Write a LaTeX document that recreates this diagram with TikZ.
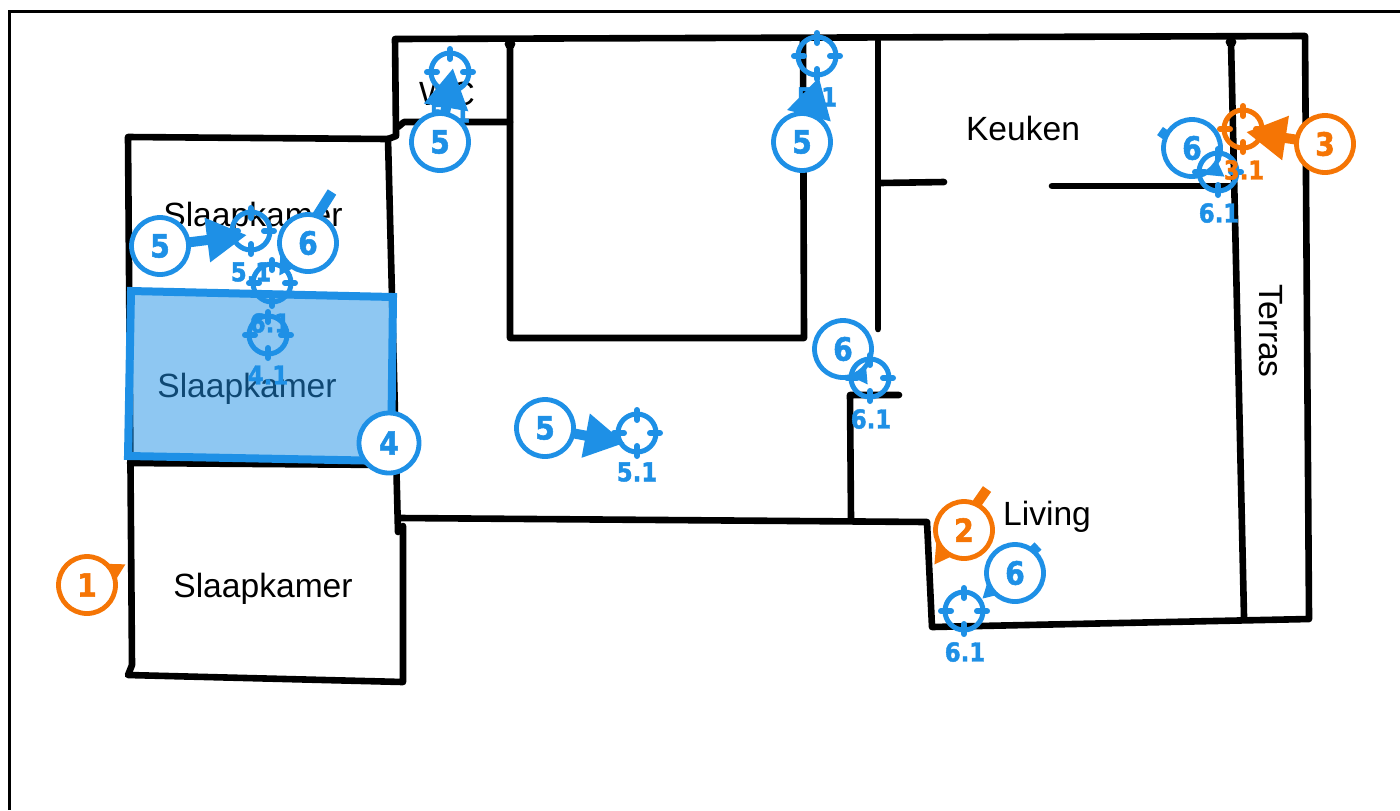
\documentclass[tikz,border=0pt]{standalone}
\usepackage{fontspec}
\setmainfont{Liberation Sans}
\newfontfamily\numfont{DejaVu Sans}[FakeStretch=0.88,FakeBold=1.6]
\usetikzlibrary{arrows.meta}
\definecolor{mblue}{HTML}{1E90E6}
\definecolor{morange}{HTML}{F57505}
\tikzset{
  x=0.5pt,y=-0.5pt,
  wall/.style={draw=black,line width=3.3pt,line cap=round,line join=round},
  roomtext/.style={font=\fontsize{16.8}{18}\selectfont,text=black,inner sep=0pt},
  callout/.style={circle,draw=#1,line width=2.4pt,fill=white,minimum size=28.5pt,inner sep=0pt,text=#1,font=\numfont\bfseries\fontsize{16}{18}\selectfont},
  targetring/.style={circle,draw=#1,line width=2.5pt,minimum size=19pt,inner sep=0pt},
  targettick/.style={draw=#1,line width=3pt,line cap=round},
  targetlabel/.style={text=#1,inner sep=0pt,font=\numfont\bfseries\fontsize{13}{15}\selectfont},
  pointer/.style={draw=#1,fill=#1,line width=5pt,-{Triangle[length=20pt,width=21pt,fill=#1]}},
}
\newcommand{\targetmark}[4]{% name, x, y, colour
  \node[targetring=#4] (#1) at (#2,#3) {};
  \foreach \a in {0,90,180,270}
    \draw[targettick=#4] ([shift={(\a:6.5pt)}]#1.center) -- ([shift={(\a:11.5pt)}]#1.center);
}
\newcommand{\targetlab}[5]{\node[targetlabel=#5] (#1) at (#2,#3) {#4};}
\begin{document}
\begin{tikzpicture}
\useasboundingbox (0,0) rectangle (1400,810);
\fill[white] (0,0) rectangle (1400,810);
% page frame
\coordinate (fa) at (9,810); \coordinate (fb) at (9,11); \coordinate (fc) at (1400,11);
\draw[black,line width=1.5pt,line join=miter] (fa) -- (fb) -- (fc);
% walls
\coordinate (w1) at (128,137); \coordinate (w2) at (388,139);
\coordinate (w4) at (398,532); \coordinate (w4b) at (403,526);
\coordinate (w5) at (132,665); \coordinate (w6) at (128,675); \coordinate (w7) at (403,682);
\coordinate (w8) at (401,518); \coordinate (w9) at (927,522); \coordinate (w10) at (932,627);
\coordinate (w11) at (1309,619); \coordinate (w12) at (1305,36); \coordinate (w13) at (395,39);
\coordinate (w14) at (396,136);
\draw[wall] (w2) -- (w1) -- (w5) -- (w6) -- (w7) -- (w4b);
\draw[wall] (w2) -- (w4);
\draw[wall] (w8) -- (w9) -- (w10) -- (w11) -- (w12) -- (w13) -- (w14) -- (w2);
\coordinate (a1) at (398,127); \coordinate (a2) at (404,122); \coordinate (a3) at (510,122);
\draw[wall] (a1) -- (a2) -- (a3);
\coordinate (b1) at (510,44); \coordinate (b2) at (510,338); \coordinate (b3) at (804,338); \coordinate (b4) at (803,41);
\draw[wall] (b1) -- (b2) -- (b3) -- (b4);
\coordinate (c1) at (878,41); \coordinate (c2) at (878,329);
\draw[wall] (c1) -- (c2);
\coordinate (d1) at (880,183); \coordinate (d2) at (944,182);
\draw[wall] (d1) -- (d2);
\coordinate (e1) at (1052,186); \coordinate (e2) at (1234,186);
\draw[wall] (e1) -- (e2);
\coordinate (g1) at (1231,42); \coordinate (g2) at (1244,617);
\draw[wall] (g1) -- (g2);
\coordinate (h1) at (851,520); \coordinate (h2) at (850,395); \coordinate (h3) at (899,395);
\draw[wall] (h1) -- (h2) -- (h3);
\coordinate (i1) at (130,463); \coordinate (i2) at (392,465);
\draw[wall] (i1) -- (i2);
\fill[black] (b1) circle (2.7pt) (g1) circle (2.7pt);
% room names
\node[roomtext] (r1) at (253,218) {Slaapkamer};
\node[roomtext] (r2) at (247,389) {Slaapkamer};
\node[roomtext] (r3) at (263,589) {Slaapkamer};
\node[roomtext] (r4) at (447,94) {WC};
\node[roomtext] (r5) at (1023,128) {Keuken};
\node[roomtext] (r6) at (1047,517) {Living};
\node[roomtext,rotate=-90] (r7) at (1271,331) {Terras};
% highlighted room
\coordinate (q1) at (131,291); \coordinate (q2) at (393,297); \coordinate (q3) at (391,461); \coordinate (q4) at (128,456);
\fill[mblue,opacity=.5] (q1) -- (q2) -- (q3) -- (q4) -- cycle;
\draw[mblue,line width=4pt,line join=miter] (q1) -- (q2) -- (q3) -- (q4) -- cycle;
% blue target labels
\targetlab{l1}{450}{113}{5.1}{mblue}
\targetlab{l2}{817}{97}{5.1}{mblue}
\targetlab{l3}{251}{272}{5.1}{mblue}
\targetlab{l4}{270}{323}{6.1}{mblue}
\targetlab{l5}{268}{375}{4.1}{mblue}
\targetlab{l6}{1219}{213}{6.1}{mblue}
\targetlab{l7}{871}{419}{6.1}{mblue}
\targetlab{l8}{637}{472}{5.1}{mblue}
\targetlab{l9}{965}{652}{6.1}{mblue}
% blue pointers
\coordinate (n1) at (440,142);   \coordinate (p1) at (453,68);
\coordinate (n2) at (802,142);   \coordinate (p2) at (819,77);
\coordinate (n3) at (160,246);   \coordinate (p3) at (247,235);
\coordinate (n5) at (545,428);   \coordinate (p5) at (625,443);
\coordinate (s6) at (332,192);   \coordinate (p6) at (279,276);
\coordinate (s7) at (1160,131);  \coordinate (p7) at (1225,177);
\coordinate (n8) at (843,349);   \coordinate (p8) at (868,385);
\coordinate (s9) at (1038,546);  \coordinate (p9) at (982,599);
\draw[pointer=mblue] (n1) -- (p1);
\draw[pointer=mblue] (n2) -- (p2);
\draw[pointer=mblue] (n3) -- (p3);
\draw[pointer=mblue] (n5) -- (p5);
\draw[pointer=mblue] (s6) -- (p6);
\draw[pointer=mblue] (s7) -- (p7);
\draw[pointer=mblue] (n8) -- (p8);
\draw[pointer=mblue] (s9) -- (p9);
% blue callouts
\node[callout=mblue] (c5a) at (n1) {5};
\node[callout=mblue] (c5b) at (n2) {5};
\node[callout=mblue] (c5c) at (n3) {5};
\node[callout=mblue] (c5d) at (n5) {5};
\node[callout=mblue] (c6a) at (308,243) {6};
\node[callout=mblue] (c6b) at (1192,148) {6};
\node[callout=mblue] (c6c) at (n8) {6};
\node[callout=mblue] (c6d) at (1015,573) {6};
\node[callout=mblue,minimum size=30pt] (c4) at (389,443) {4};
% blue targets
\targetmark{t1}{450}{72}{mblue}
\targetmark{t2}{817}{56}{mblue}
\targetmark{t3}{251}{231}{mblue}
\targetmark{t4}{272}{283}{mblue}
\targetmark{t5}{268}{335}{mblue}
\targetmark{t6}{1218}{172}{mblue}
\targetmark{t7}{870}{378}{mblue}
\targetmark{t8}{637}{433}{mblue}
\targetmark{t9}{964}{611}{mblue}
% orange
\targetlab{l10}{1244}{170}{3.1}{morange}
\coordinate (n12) at (1325,144); \coordinate (p12) at (1246,132);
\coordinate (s11) at (987,489);  \coordinate (p11) at (934,565);
\coordinate (n10) at (87,585);   \coordinate (p10) at (126,564);
\draw[pointer=morange] (n12) -- (p12);
\draw[pointer=morange] (s11) -- (p11);
\draw[pointer=morange] (n10) -- (p10);
\node[callout=morange] (c1) at (n10) {1};
\node[callout=morange] (c2) at (964,530) {2};
\node[callout=morange] (c3) at (n12) {3};
\targetmark{t10}{1243}{129}{morange}
\end{tikzpicture}
\end{document}
